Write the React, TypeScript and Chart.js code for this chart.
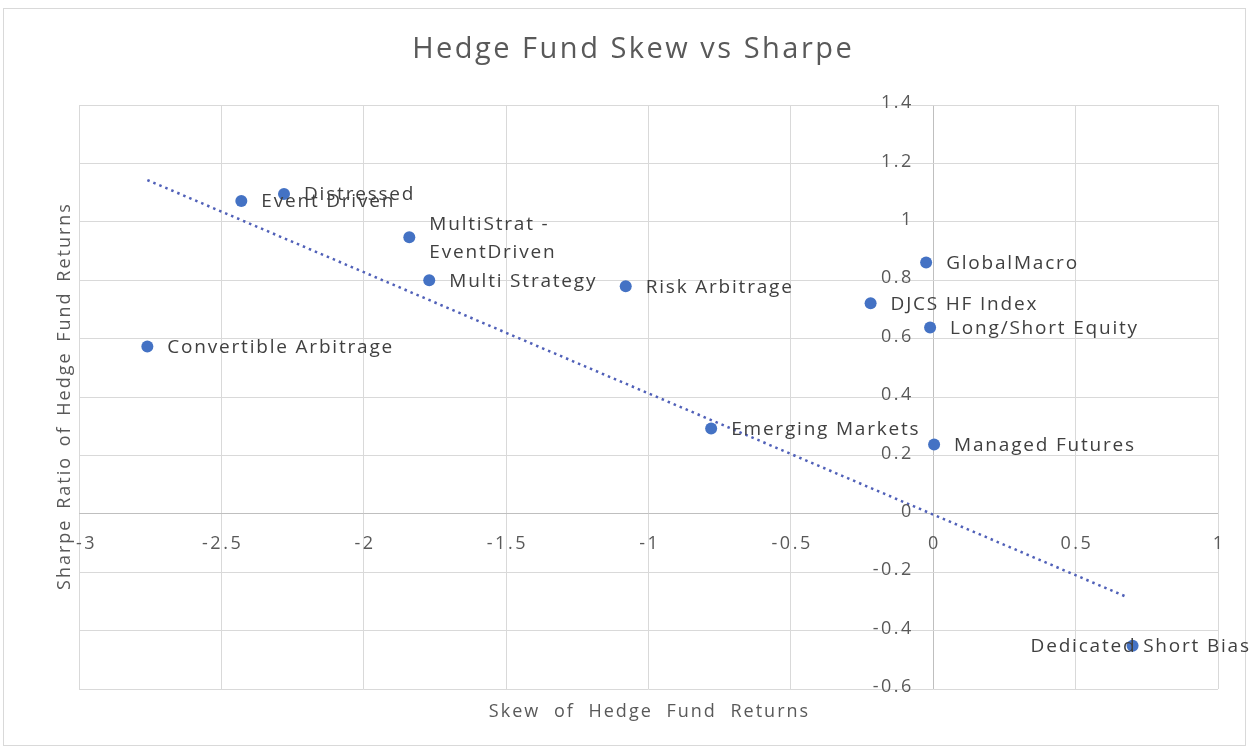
import React, { useEffect, useRef } from "react";
import { Chart, registerables } from "chart.js";

Chart.register(...registerables);

// ---- Data ----
const fundNames = [
  "Convertible Arbitrage",
  "Event Driven",
  "Distressed",
  "MultiStrat -\nEventDriven",
  "Multi Strategy",
  "Risk Arbitrage",
  "Emerging Markets",
  "DJCS HF Index",
  "GlobalMacro",
  "Long/Short Equity",
  "Managed Futures",
  "Dedicated Short Bias",
];
const skewValues = [-2.76, -2.43, -2.28, -1.84, -1.77, -1.08, -0.78, -0.22, -0.025, -0.011, 0.003, 0.70];
const sharpeValues = [0.573, 1.071, 1.095, 0.947, 0.80, 0.779, 0.292, 0.721, 0.861, 0.638, 0.237, -0.452];

// dotted linear trend line (end points)
const trendSkew = [-2.76, 0.68];
const trendSharpe = [1.143, -0.285];

const xTickValues = [-3, -2.5, -2, -1.5, -1, -0.5, 0, 0.5, 1];
const xTickLabels = ["-3", "-2.5", "-2", "-1.5", "-1", "-0.5", "0", "0.5", "1"];
const yTickValues = [-0.6, -0.4, -0.2, 0, 0.2, 0.4, 0.6, 0.8, 1, 1.2, 1.4];
const yTickLabels = ["-0.6", "-0.4", "-0.2", "0", "0.2", "0.4", "0.6", "0.8", "1", "1.2", "1.4"];

const chartTitle = "Hedge Fund Skew vs Sharpe";
const xAxisTitle = "Skew of Hedge Fund Returns";
const yAxisTitle = "Sharpe Ratio of Hedge Fund Returns";

const FONT = '"Open Sans", "Liberation Sans", sans-serif';
const TEXT_GREY = "#595959";

type TextOpts = {
  size: number;
  color: string;
  align: "left" | "center" | "right";
  spacing: number;
  wordSpacing?: number;
};

function drawSpacedText(ctx: any, text: string, x: number, y: number, o: TextOpts) {
  ctx.save();
  ctx.font = `${o.size}px ${FONT}`;
  ctx.fillStyle = o.color;
  ctx.textBaseline = "middle";
  ctx.textAlign = "left";
  ctx.letterSpacing = `${o.spacing}px`;
  ctx.wordSpacing = `${o.wordSpacing ?? 0}px`;
  const w = ctx.measureText(text).width - o.spacing;
  let left = x;
  if (o.align === "center") left = x - w / 2;
  else if (o.align === "right") left = x - w;
  ctx.fillText(text, left, y);
  ctx.restore();
  return w;
}

function measureSpaced(ctx: any, text: string, o: TextOpts) {
  ctx.save();
  ctx.font = `${o.size}px ${FONT}`;
  ctx.letterSpacing = `${o.spacing}px`;
  ctx.wordSpacing = `${o.wordSpacing ?? 0}px`;
  const w = ctx.measureText(text).width - o.spacing;
  ctx.restore();
  return w;
}

const backgroundPlugin = {
  id: "bgBorder",
  beforeDraw(chart: any) {
    const { ctx, width, height } = chart;
    ctx.save();
    ctx.fillStyle = "#ffffff";
    ctx.fillRect(0, 0, width, height);
    ctx.strokeStyle = "#d9d9d9";
    ctx.lineWidth = 1;
    ctx.strokeRect(3.5, 8.5, width - 8, height - 13);
    ctx.restore();
  },
};

const titlesPlugin = {
  id: "titles",
  afterDraw(chart: any) {
    const { ctx, chartArea } = chart;
    drawSpacedText(ctx, chartTitle, 632, 50, { size: 29, color: TEXT_GREY, align: "center", spacing: 2.5 });
    drawSpacedText(ctx, xAxisTitle, (chartArea.left + chartArea.right) / 2, 712, {
      size: 18, color: TEXT_GREY, align: "center", spacing: 2, wordSpacing: 7,
    });
    ctx.save();
    ctx.translate(65, (chartArea.top + chartArea.bottom) / 2);
    ctx.rotate(-Math.PI / 2);
    drawSpacedText(ctx, yAxisTitle, 0, 0, { size: 18, color: TEXT_GREY, align: "center", spacing: 2, wordSpacing: 3 });
    ctx.restore();
  },
};

const axisLabelPlugin = {
  id: "crossAxisLabels",
  afterDatasetsDraw(chart: any) {
    const { ctx } = chart;
    const xs = chart.scales.x;
    const ys = chart.scales.y;
    const x0 = xs.getPixelForValue(0);
    const y0 = ys.getPixelForValue(0);
    const tickOpts: TextOpts = { size: 18, color: TEXT_GREY, align: "right", spacing: 2.5 };
    ys.ticks.forEach((t: any, i: number) => {
      const label = t.label ?? yTickLabels[i];
      drawSpacedText(ctx, label, x0 - 22, ys.getPixelForValue(t.value) - 2, tickOpts);
    });
    xs.ticks.forEach((t: any, i: number) => {
      const label = t.label ?? xTickLabels[i];
      const o: TextOpts = { ...tickOpts, align: "center" };
      const w = measureSpaced(ctx, label, o);
      let px = xs.getPixelForValue(t.value);
      if (px - w / 2 < chart.chartArea.left - 3) px = chart.chartArea.left - 3 + w / 2;
      drawSpacedText(ctx, label, px, y0 + 30, o);
    });
  },
};

const dataLabelPlugin = {
  id: "pointLabels",
  afterDatasetsDraw(chart: any) {
    const { ctx } = chart;
    const meta = chart.getDatasetMeta(0);
    const o: TextOpts = { size: 19, color: "#404040", align: "left", spacing: 1.8 };
    const lh = 28;
    meta.data.forEach((pt: any, i: number) => {
      const lines = fundNames[i].split("\n");
      const w = Math.max(...lines.map((l) => measureSpaced(ctx, l, o)));
      let x = pt.x + 20;
      if (x + w > chart.width - 1) x = chart.width - 1 - w;
      lines.forEach((l, j) => {
        drawSpacedText(ctx, l, x, pt.y + 1 + (j - (lines.length - 1) / 2) * lh, o);
      });
    });
  },
};

export default function App() {
  const ref = useRef<HTMLCanvasElement>(null);

  useEffect(() => {
    const canvas = ref.current;
    if (!canvas) return;
    const gridColor = (c: any) => (c.tick && c.tick.value === 0 ? "#bfbfbf" : "#d9d9d9");
    const chart = new Chart(canvas, {
      type: "scatter",
      data: {
        datasets: [
          {
            label: "Funds",
            data: skewValues.map((x, i) => ({ x, y: sharpeValues[i] })),
            backgroundColor: "#4472C4",
            borderColor: "#4472C4",
            borderWidth: 0,
            pointRadius: 6,
            pointHoverRadius: 6,
            order: 1,
          },
          {
            label: "Trend",
            data: trendSkew.map((x, i) => ({ x, y: trendSharpe[i] })),
            showLine: true,
            borderColor: "#5060b8",
            borderWidth: 2.5,
            borderDash: [2.5, 4],
            pointRadius: 0,
            pointHoverRadius: 0,
            fill: false,
            order: 0,
          } as any,
        ],
      },
      options: {
        animation: false,
        responsive: false,
        events: [],
        layout: { autoPadding: false, padding: { left: 79, right: 32, top: 105, bottom: 61 } },
        plugins: {
          legend: { display: false },
          tooltip: { enabled: false },
          title: { display: false },
        },
        scales: {
          x: {
            type: "linear",
            min: -3,
            max: 1,
            afterBuildTicks: (s: any) => {
              s.ticks = xTickValues.map((v) => ({ value: v }));
            },
            ticks: {
              display: false,
              callback: (v: any) => xTickLabels[xTickValues.indexOf(Number(v))] ?? String(v),
            },
            grid: { color: gridColor, lineWidth: 1, drawTicks: false },
            border: { display: false },
            title: { display: false },
          },
          y: {
            type: "linear",
            min: -0.6,
            max: 1.4,
            afterBuildTicks: (s: any) => {
              s.ticks = yTickValues.map((v) => ({ value: v }));
            },
            ticks: {
              display: false,
              callback: (v: any) => yTickLabels[yTickValues.indexOf(Number(v))] ?? String(v),
            },
            grid: { color: gridColor, lineWidth: 1, drawTicks: false },
            border: { display: false },
            title: { display: false },
          },
        },
      },
      plugins: [backgroundPlugin, axisLabelPlugin, dataLabelPlugin, titlesPlugin],
    });
    return () => chart.destroy();
  }, []);

  return (
    <div style={{ position: "fixed", left: 0, top: 0, width: 1250, height: 750, background: "#fff" }}>
      <canvas ref={ref} width={1250} height={750} style={{ display: "block" }} />
    </div>
  );
}
